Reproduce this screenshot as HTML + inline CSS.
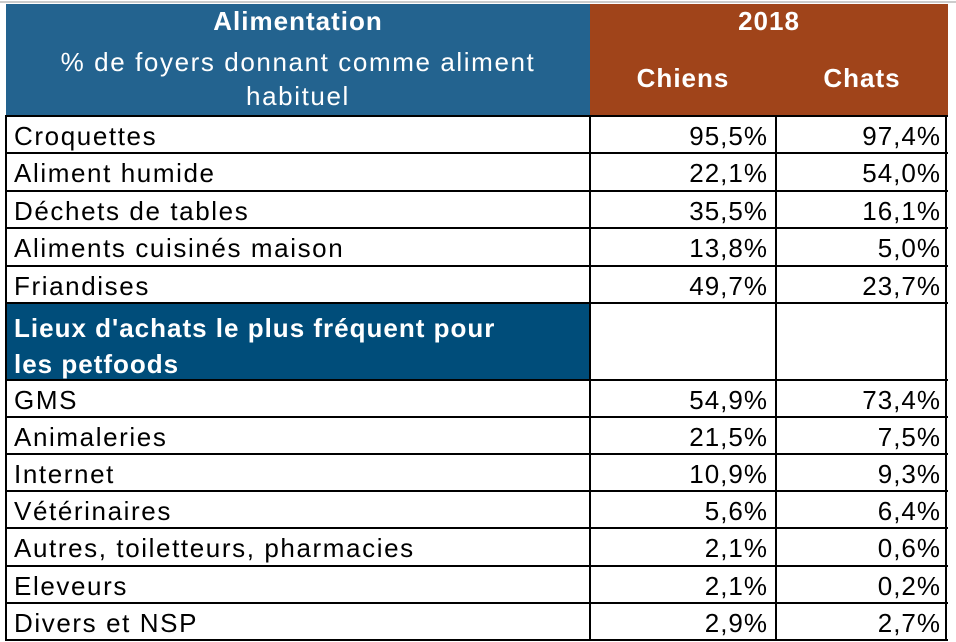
<!DOCTYPE html>
<html><head><meta charset="utf-8"><style>
body{margin:0;width:956px;height:642px;background:#fff;position:relative;overflow:hidden;font-family:"Liberation Sans","DejaVu Sans",sans-serif;}
.c{position:absolute;box-sizing:border-box;}
.t{position:absolute;font-size:26px;color:#000;white-space:nowrap;letter-spacing:1.6px;}
.h{color:#fff;font-weight:bold;letter-spacing:1px;}
.line{position:absolute;background:#000;}
</style></head><body>
<div class="c" style="left:0;top:1px;width:956px;height:2px;background:#ccc"></div>
<div class="c" style="left:6px;top:4px;width:584px;height:111px;background:#23638f"></div>
<div class="c" style="left:590px;top:4px;width:358px;height:111px;background:#a0441a"></div>
<div class="t h" style="left:6px;width:584px;text-align:center;top:6px">Alimentation</div>
<div class="t" style="left:6px;width:584px;text-align:center;top:45px;color:#fff;white-space:normal;line-height:34px">% de foyers donnant comme aliment<br>habituel</div>
<div class="t h" style="left:590px;width:358px;text-align:center;top:6px">2018</div>
<div class="t h" style="left:590px;width:186px;text-align:center;top:63px">Chiens</div>
<div class="t h" style="left:776px;width:172px;text-align:center;top:63px">Chats</div>
<div class="c" style="left:6px;top:304px;width:584px;height:76px;background:#004d7a"></div>
<div class="t h" style="left:14px;top:310px;line-height:36px">Lieux d'achats le plus fréquent pour<br>les petfoods</div>
<script>
const labels=["Croquettes","Aliment humide","Déchets de tables","Aliments cuisinés maison","Friandises","GMS","Animaleries","Internet","Vétérinaires","Autres, toiletteurs, pharmacies","Eleveurs","Divers et NSP"];
const chiens=["95,5%","22,1%","35,5%","13,8%","49,7%","54,9%","21,5%","10,9%","5,6%","2,1%","2,1%","2,9%"];
const chats=["97,4%","54,0%","16,1%","5,0%","23,7%","73,4%","7,5%","9,3%","6,4%","0,6%","0,2%","2,7%"];
const tops=[116,153,191,228,266,380,417,454,491,528,566,603];
const b=document.body;
function add(cls,style,text){const d=document.createElement('div');d.className=cls;d.style.cssText=style;if(text!==undefined)d.textContent=text;b.appendChild(d);return d;}
labels.forEach((l,i)=>{
 const y=tops[i];
 const a=add('t', `left:14px;top:${y+5}px`, l);
 
 
 const c=add('t', `left:590px;width:178px;text-align:right;top:${y+5}px;letter-spacing:1px`, chiens[i]);
 
 
 const d=add('t', `left:776px;width:165px;text-align:right;top:${y+5}px;letter-spacing:1px`, chats[i]);
 
 
});
const hl=[116,153,191,228,266,303,380,417,454,491,528,566,603,640];
hl.forEach(y=>{const e=add('line',`left:6px;top:${y-1}px;width:942px;height:2px`);
 
 });
[6,590,776,946].forEach(x=>{const e=add('line',`left:${x-1}px;top:115px;width:2px;height:526px`);
 
 });
</script>
</body></html>
